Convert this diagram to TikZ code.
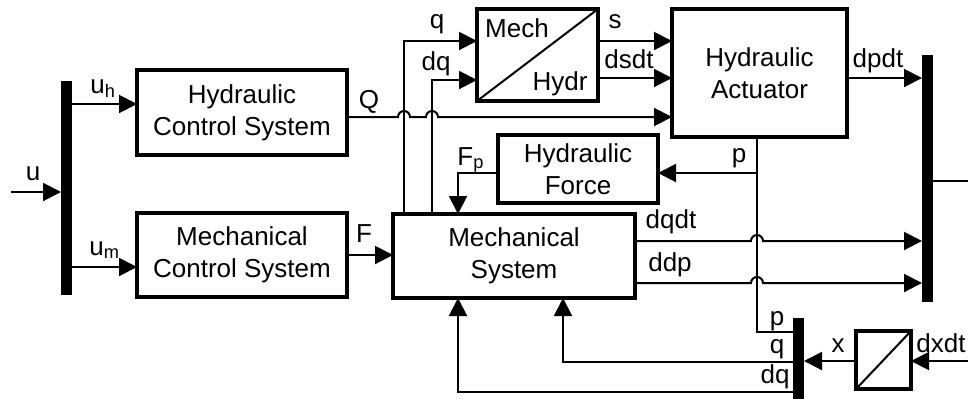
\documentclass[tikz,border=0pt]{standalone}
\usepackage{fontspec}
\setmainfont{Liberation Sans}
\usetikzlibrary{arrows.meta}
\newcommand{\dfont}{\fontsize{13}{16}\selectfont}
\tikzset{
  box/.style={draw, line width=2pt, inner sep=0pt, outer sep=0pt, align=center, font=\dfont},
  bus/.style={fill=black, draw=none, inner sep=0pt, outer sep=0pt, minimum width=5.5pt},
  ln/.style={line width=1pt},
  arr/.style={line width=1pt, -{Triangle[length=9pt,width=9pt]}},
  lbl/.style={inner sep=0pt, anchor=base, font=\dfont},
}
\begin{document}
\begin{tikzpicture}[x=0.5pt,y=-0.5pt]
\path[use as bounding box, clip] (0,0) rectangle (968,398);
% blocks
\node[box, minimum width=105pt, minimum height=42.5pt] (HCS) at (242,112.5) {Hydraulic\\Control System};
\node[box, minimum width=105pt, minimum height=42pt] (MCS) at (242,255) {Mechanical\\Control System};
\node[box, minimum width=60.5pt, minimum height=46pt] (MH) at (537.5,55) {};
\node[box, minimum width=87.5pt, minimum height=64pt] (HA) at (759.5,73) {Hydraulic\\Actuator};
\node[box, minimum width=80pt, minimum height=34pt] (HF) at (578,169) {Hydraulic\\Force};
\node[box, minimum width=121pt, minimum height=42pt] (MS) at (514,256) {Mechanical\\System};
\node[box, minimum width=27.5pt, minimum height=29pt] (INT) at (883.5,360) {};
\draw[ln] (MH.south west) -- (MH.north east);
\draw[ln] (INT.south west) -- (INT.north east);
\node[lbl] (tmech) at (517,37) {Mech};
\node[lbl] (thydr) at (560,90) {Hydr};
% buses
\node[bus, minimum height=107pt] (lbus) at (66.5,188) {};
\node[bus, minimum height=123.5pt] (rbus) at (927.5,178.5) {};
\node[bus, minimum height=42pt] (sbus) at (798.5,360) {};
% free ends
\coordinate (uin) at (11,192);
\coordinate (yout) at (968,181);
\coordinate (dxin) at (968,361);
\coordinate (pj) at (757,173);
% connectors
\draw[arr] (uin) -- (lbus.west |- uin);
\draw[arr] (lbus.east |- 0,104) -- (HCS.west |- 0,104);
\draw[arr] (lbus.east |- 0,267) -- (MCS.west |- 0,267);
\draw[arr] (HCS.east |- 0,117) -- (398,117) arc[start angle=180, end angle=360, x radius=6, y radius=6]
  -- (426,117) arc[start angle=180, end angle=360, x radius=6, y radius=6] -- (HA.west |- 0,117);
\draw[arr] (MS.north -| 404,0) |- (MH.west |- 0,41);
\draw[arr] (MS.north -| 432,0) |- (MH.west |- 0,80);
\draw[arr] (MH.east |- 0,41) -- (HA.west |- 0,41);
\draw[arr] (MH.east |- 0,78) -- (HA.west |- 0,78);
\draw[arr] (HA.east |- 0,78) -- (rbus.west |- 0,78);
\draw[ln] (rbus.east |- yout) -- (yout);
\draw[ln] (HA.south -| pj) |- (sbus.west |- 0,332);
\draw[arr] (pj) -- (HF.east |- pj);
\draw[arr] (HF.west |- 0,173) -| (MS.north -| 458,0);
\draw[arr] (MCS.east |- 0,255) -- (MS.west |- 0,255);
\draw[arr] (MS.east |- 0,241) -- (751,241) arc[start angle=180, end angle=360, x radius=6, y radius=6] -- (rbus.west |- 0,241);
\draw[arr] (MS.east |- 0,283) -- (751,283) arc[start angle=180, end angle=360, x radius=6, y radius=6] -- (rbus.west |- 0,283);
\draw[arr] (sbus.west |- 0,362) -| (MS.south -| 563,0);
\draw[arr] (sbus.west |- 0,392) -| (MS.south -| 458,0);
\draw[arr] (INT.west |- 0,361) -- (sbus.east |- 0,361);
\draw[arr] (dxin) -- (INT.east |- dxin);
% labels
\node[lbl] (lu) at (33,180) {u};
\node[lbl, anchor=base west] (luh) at (90,93) {u\textsubscript{h}};
\node[lbl, anchor=base west] (lum) at (89,255) {u\textsubscript{m}};
\node[lbl] (lQ) at (369,108) {Q};
\node[lbl] (lq) at (437,28) {q};
\node[lbl] (ldq) at (436,70) {dq};
\node[lbl] (ls) at (615,28) {s};
\node[lbl] (ldsdt) at (629,68) {dsdt};
\node[lbl] (ldpdt) at (878,67) {dpdt};
\node[lbl] (lp1) at (739,162) {p};
\node[lbl, anchor=base west] (lFp) at (457,165) {F\textsubscript{p}};
\node[lbl] (lF) at (364,242) {F};
\node[lbl] (ldqdt) at (671,228) {dqdt};
\node[lbl] (lddp) at (670,271) {ddp};
\node[lbl] (lp2) at (777,325) {p};
\node[lbl] (lq2) at (777,353) {q};
\node[lbl] (ldq2) at (775,383) {dq};
\node[lbl] (lx) at (838,352) {x};
\node[lbl, anchor=base east] (ldxdt) at (966,352) {dxdt};
\end{tikzpicture}
\end{document}
